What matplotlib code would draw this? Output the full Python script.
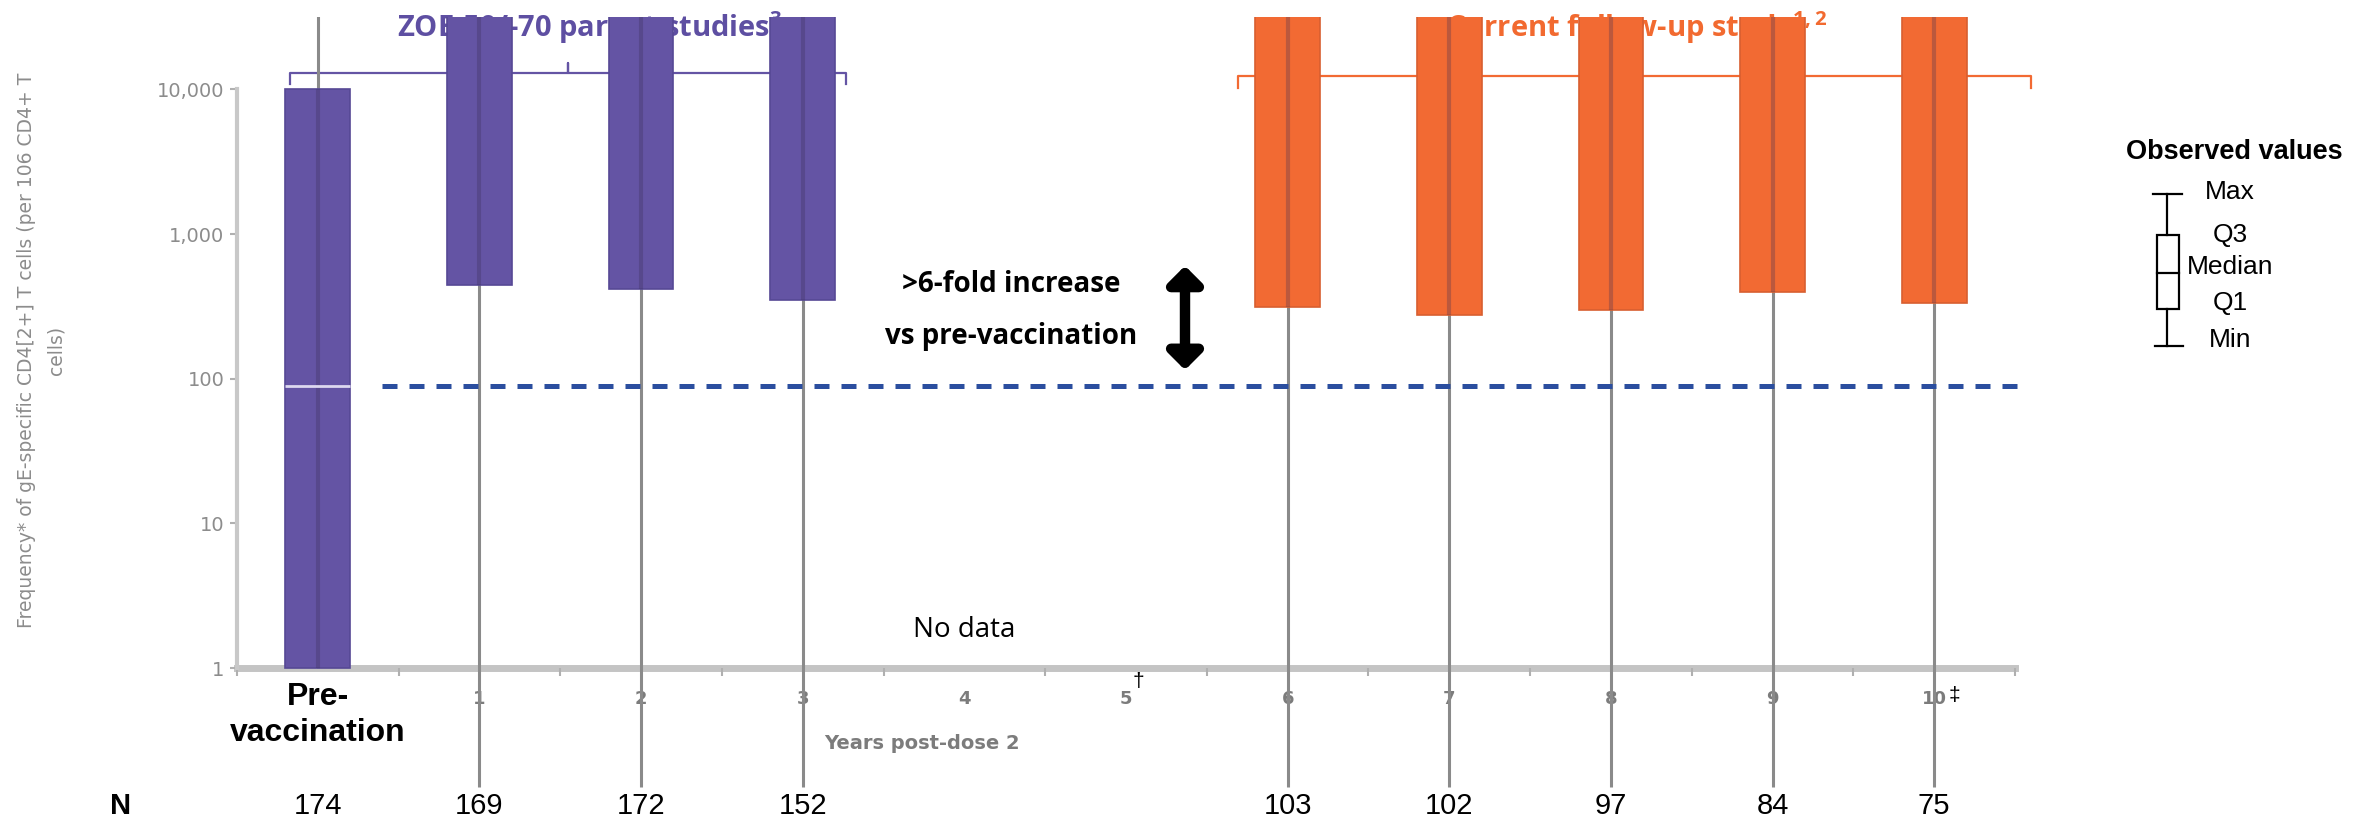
import numpy as np
import matplotlib
matplotlib.use('agg')
from matplotlib import pyplot as plt
from matplotlib.lines import Line2D
from matplotlib.patches import Rectangle
from matplotlib.ticker import NullLocator
import matplotlib.transforms as mtransforms

# x position of each box: 0 = pre-vaccination, then years post-dose 2
positions = [0, 1, 2, 3, 6, 7, 8, 9, 10]
study = ['parent', 'parent', 'parent', 'parent',
         'follow-up', 'follow-up', 'follow-up', 'follow-up', 'follow-up']
n_subjects = [174, 169, 172, 152, 103, 102, 97, 84, 75]
q1 = [1, 445, 420, 350, 312, 276, 297, 396, 331]
q3 = [10000, 40000, 40000, 40000, 40000, 40000, 40000, 40000, 40000]
whisker_low = [1, 0.15, 0.15, 0.15, 0.15, 0.15, 0.15, 0.15, 0.15]
whisker_high = [50000, 50000, 50000, 50000, 50000, 50000, 50000, 50000, 50000]
median_prevacc = 89

year_ticks = [1, 2, 3, 4, 5, 6, 7, 8, 9, 10]
y_ticks = [1, 10, 100, 1000, 10000]
y_tick_labels = ['1', '10', '100', '1,000', '10,000']

PURPLE = '#6454a4'
ORANGE = '#f26a33'
GREY = '#8c8c8c'

plt.rcParams['font.family'] = ['Liberation Sans', 'DejaVu Sans']
plt.rcParams['mathtext.fontset'] = 'custom'
plt.rcParams['mathtext.rm'] = 'Open Sans:bold'
plt.rcParams['mathtext.it'] = 'Open Sans:bold'
plt.rcParams['mathtext.bf'] = 'Open Sans:bold'

W, H = 2372, 824
fig = plt.figure(figsize=(W / 100, H / 100), dpi=100)
ax = fig.add_axes([237 / W, 1 - 791 / H, (2015 - 237) / W, (791 - 17) / H])
ax.set_yscale('log')
ax.set_xlim(-0.5, 10.5)
ax.set_ylim(10 ** -0.85, 10 ** 4.5)

colors = [PURPLE if s == 'parent' else ORANGE for s in study]
edges = ['#564895' if s == 'parent' else '#d85f30' for s in study]

# whiskers run through the box, box sits on top
ax.vlines(positions, whisker_low, whisker_high, colors='#8a8a8a', lw=2.2, zorder=2)
ax.bar(positions, np.array(q3) - np.array(q1), bottom=q1, width=0.4,
       color=colors, edgecolor=edges, linewidth=1.2, zorder=4)
ax.vlines(positions, q1, q3, colors='#3c2f55', alpha=0.3, lw=3, zorder=5)
ax.hlines(median_prevacc, positions[0] - 0.2, positions[0] + 0.2,
          colors='#ddd8f0', lw=2, zorder=6)

# reference line at the pre-vaccination median
ax.hlines(median_prevacc, 0.4, 10.54, colors='#2b4e9f', lw=3.6,
          linestyles=(0, (3, 2.4)), clip_on=False, zorder=3)

# axes styling
for side in ['top', 'right']:
    ax.spines[side].set_visible(False)
ax.spines['left'].set_color('#c8c8c8')
ax.spines['left'].set_linewidth(3)
ax.spines['left'].set_bounds(1, 10000)
ax.spines['bottom'].set_position(('data', 1))
ax.spines['bottom'].set_color('#c4c4c4')
ax.spines['bottom'].set_linewidth(5)
ax.spines['bottom'].set_zorder(1)

ax.set_yticks(y_ticks)
ax.set_yticklabels(y_tick_labels, family='DejaVu Sans')
ax.yaxis.set_minor_locator(NullLocator())
ax.tick_params(axis='y', length=5, width=1.5, color='#b0b0b0',
               labelcolor=GREY, labelsize=14, pad=4)

ax.set_xticks(year_ticks)
ax.set_xticklabels([str(y) for y in year_ticks], family='DejaVu Sans', fontweight='bold')
ax.set_xticks(np.arange(-0.5, 11, 1), minor=True)
ax.tick_params(axis='x', which='major', length=0, pad=16, labelsize=13, labelcolor='#7c7c7c')
ax.tick_params(axis='x', which='minor', length=6, width=1.5, color='#b0b0b0')

ax.annotate('\u2020', xy=(5, 1), xytext=(9, -10), textcoords='offset points',
            ha='center', va='center', fontsize=15, color='black')
ax.annotate('\u2021', xy=(10, 1), xytext=(14.5, -19.5), textcoords='offset points',
            ha='center', va='center', fontsize=15, color='black')

ax.text(3.74, 10 ** -0.52, 'Years post-dose 2', family='DejaVu Sans', fontweight='bold',
        fontsize=14, color='#7c7c7c', ha='center', va='center')

fig.text(41 / W, 1 - 350 / H,
         'Frequency* of gE-specific CD4[2+] T cells (per 106 CD4+ T\ncells)',
         family='DejaVu Sans', fontsize=13.5, color=GREY, rotation=90,
         ha='center', va='center', multialignment='center', linespacing=1.7)

# study headers with braces (drawn behind the boxes)
ax.text(1.68, 10 ** 4.36, 'ZOE-50/-70 parent studies$^{3}$', family='Open Sans',
        fontweight='bold', fontsize=21, color='#5e4fa2', ha='center', va='baseline', zorder=1)
ax.text(8.16, 10 ** 4.36, 'Current follow-up study$^{1,2}$', family='Open Sans',
        fontweight='bold', fontsize=21, color='#f26a30', ha='center', va='baseline', zorder=1)

ax.plot([-0.17, -0.17, 1.55, 1.55, 1.55, 3.27, 3.27],
        [10 ** 4.04, 10 ** 4.11, 10 ** 4.11, 10 ** 4.18, 10 ** 4.11, 10 ** 4.11, 10 ** 4.04],
        color='#6454a4', lw=1.6, zorder=1)
ax.plot([5.69, 5.69, 8.15, 8.15, 8.15, 10.6, 10.6],
        [10 ** 4.01, 10 ** 4.09, 10 ** 4.09, 10 ** 4.16, 10 ** 4.09, 10 ** 4.09, 10 ** 4.01],
        color='#f26a33', lw=1.6, zorder=1, clip_on=False)

# annotations
ax.text(4, 10 ** 0.26, 'No data', family='Open Sans', fontsize=20, ha='center', va='center')
ax.text(4.29, 10 ** 2.653, '>6-fold increase', family='Open Sans', fontweight='bold',
        fontsize=20, ha='center', va='center')
ax.text(4.29, 10 ** 2.294, 'vs pre-vaccination', family='Open Sans', fontweight='bold',
        fontsize=20, ha='center', va='center')
ax.annotate('', xy=(5.365, 10 ** 2.78), xytext=(5.365, 10 ** 2.06),
            arrowprops=dict(arrowstyle='<|-|>,head_length=0.5,head_width=0.5',
                            mutation_scale=20, lw=7.5, color='black',
                            shrinkA=0, shrinkB=0), zorder=6)

# category label and N row under the axis
row = mtransforms.blended_transform_factory(ax.transData, fig.transFigure)
ax.text(0, 1 - 715 / H, 'Pre-\nvaccination', transform=row, fontsize=23, fontweight='bold',
        ha='center', va='center', linespacing=1.3)
fig.text(121 / W, 1 - 806 / H, 'N', fontsize=21, fontweight='bold', ha='center', va='center')
for x, n in zip(positions, n_subjects):
    ax.text(x, 1 - 806 / H, str(n), transform=row, fontsize=21, ha='center', va='center',
            clip_on=False)

# legend box for observed values
def fx(px):
    return px / W


def fy(py):
    return 1 - py / H


lk = dict(color='black', lw=1.6, transform=fig.transFigure)
fig.add_artist(Line2D([fx(2167), fx(2167)], [fy(194), fy(235)], **lk))
fig.add_artist(Line2D([fx(2167), fx(2167)], [fy(309), fy(346)], **lk))
fig.add_artist(Line2D([fx(2153), fx(2182)], [fy(194), fy(194)], **lk))
fig.add_artist(Line2D([fx(2155), fx(2183)], [fy(346), fy(346)], **lk))
fig.add_artist(Line2D([fx(2157), fx(2179)], [fy(273), fy(273)], **lk))
fig.add_artist(Rectangle((fx(2157), fy(309)), fx(2179) - fx(2157), fy(235) - fy(309),
                         fill=False, edgecolor='black', lw=1.6, transform=fig.transFigure))
fig.text(fx(2234), fy(152), 'Observed values', fontsize=19.5, fontweight='bold',
         ha='center', va='center')
for label, py in zip(['Max', 'Q3', 'Median', 'Q1', 'Min'], [192, 235, 267, 303, 340]):
    fig.text(fx(2230), fy(py), label, fontsize=19, ha='center', va='center')

fig.savefig('out.png', dpi=100)
